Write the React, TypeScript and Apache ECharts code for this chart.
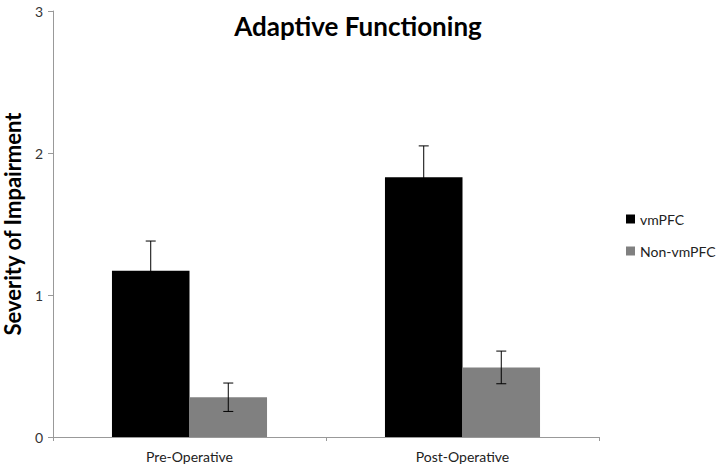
import React, { useEffect, useRef } from "react";
import * as echarts from "echarts";

const categories = ["Pre-Operative", "Post-Operative"];
const seriesNames = ["vmPFC", "Non-vmPFC"];
const vmpfcValues = [1.17, 1.83];
const vmpfcErrors = [0.21, 0.22];
const nonVmpfcValues = [0.28, 0.49];
const nonVmpfcErrors = [0.1, 0.115];
const yTicks = [0, 1, 2, 3];

const FONT = "Lato";

export default function App() {
  const ref = useRef<HTMLDivElement>(null);
  useEffect(() => {
    if (!ref.current) return;
    const chart = echarts.init(ref.current, null, { renderer: "svg" });
    const BAR_PCT = 0.284;
    const errData: number[][] = [];
    categories.forEach((_, i) => {
      errData.push([i, vmpfcValues[i], vmpfcErrors[i], 0]);
      errData.push([i, nonVmpfcValues[i], nonVmpfcErrors[i], 1]);
    });
    chart.setOption({
      animation: false,
      backgroundColor: "#fff",
      title: {
        text: "Adaptive Functioning",
        left: 353,
        top: 8,
        textAlign: "center",
        textStyle: { fontFamily: FONT, fontWeight: "bold", fontSize: 26, color: "#000" },
      },
      legend: {
        data: seriesNames,
        orient: "vertical",
        left: 621,
        top: 207,
        itemWidth: 9,
        itemHeight: 9,
        itemGap: 18,
        icon: "rect",
        textStyle: { fontFamily: FONT, fontSize: 14, color: "#222" },
      },
      grid: { left: 53, right: 122, top: 11, bottom: 36, containLabel: false, outerBoundsMode: "none" },
      xAxis: {
        type: "category",
        data: categories,
        axisLine: { lineStyle: { color: "#999", width: 1 } },
        axisTick: { show: true, length: 4, lineStyle: { color: "#999" } },
        axisLabel: { fontFamily: FONT, fontSize: 14, color: "#222", margin: 12 },
      },
      yAxis: {
        type: "value",
        min: yTicks[0],
        max: yTicks[yTicks.length - 1],
        interval: 1,
        name: "Severity of Impairment",
        nameLocation: "middle",
        nameGap: 22,
        nameTextStyle: { fontFamily: FONT, fontWeight: "bold", fontSize: 22, color: "#000" },
        axisLine: { show: true, lineStyle: { color: "#999", width: 1 } },
        axisTick: { show: true, length: 5, lineStyle: { color: "#999" } },
        axisLabel: { fontFamily: FONT, fontSize: 14, color: "#333", margin: 10 },
        splitLine: { show: false },
      },
      series: [
        {
          name: seriesNames[0],
          type: "bar",
          data: vmpfcValues,
          barWidth: BAR_PCT * 100 + "%",
          barGap: "0%",
          itemStyle: { color: "#000" },
        },
        {
          name: seriesNames[1],
          type: "bar",
          data: nonVmpfcValues,
          barWidth: BAR_PCT * 100 + "%",
          itemStyle: { color: "#808080" },
        },
        {
          name: "errors",
          type: "custom",
          data: errData,
          z: 10,
          renderItem: (params: any, api: any) => {
            const cat = api.value(0);
            const val = api.value(1);
            const err = api.value(2);
            const sIdx = api.value(3);
            const band = api.size([1, 0])[0];
            const bw = band * BAR_PCT;
            const center = api.coord([cat, val]);
            const x = center[0] + (sIdx === 0 ? -bw / 2 : bw / 2);
            const yTop = api.coord([cat, val + err])[1];
            const yBot = api.coord([cat, val - err])[1];
            const cap = 5;
            const style = { stroke: "#000", lineWidth: 1 };
            return {
              type: "group",
              children: [
                { type: "line", shape: { x1: x, y1: yTop, x2: x, y2: yBot }, style },
                { type: "line", shape: { x1: x - cap, y1: yTop, x2: x + cap, y2: yTop }, style },
                { type: "line", shape: { x1: x - cap, y1: yBot, x2: x + cap, y2: yBot }, style },
              ],
            };
          },
        },
      ],
    });
    return () => chart.dispose();
  }, []);
  return <div ref={ref} style={{ width: 721, height: 473, position: "absolute", left: 0, top: 0 }} />;
}
